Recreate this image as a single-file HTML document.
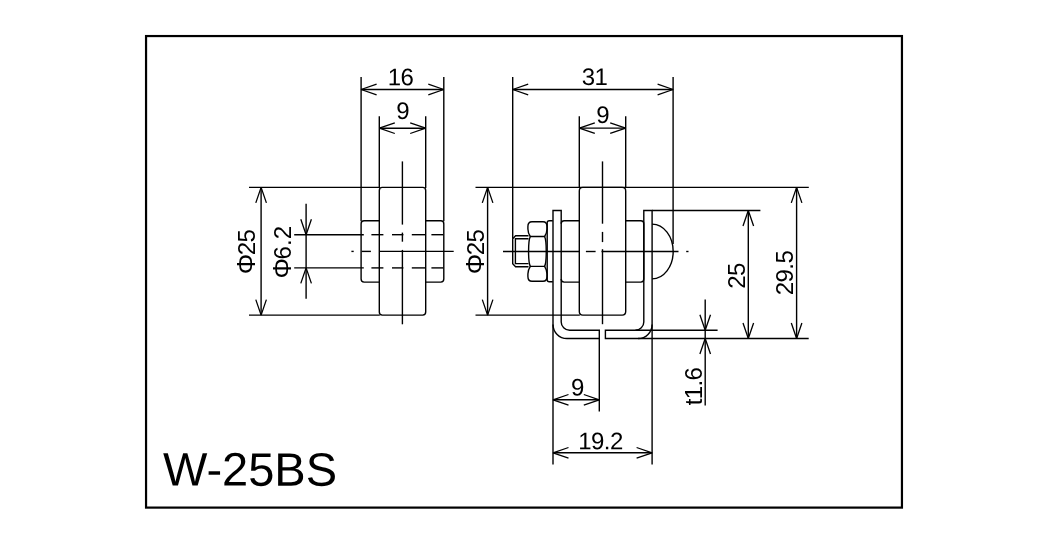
<!DOCTYPE html>
<html><head><meta charset="utf-8"><title>W-25BS</title>
<style>
html,body{margin:0;padding:0;background:#fff;}
svg{display:block;will-change:transform;}
text{font-family:"Liberation Sans",sans-serif;fill:#000;stroke:none;}
</style></head>
<body>
<svg width="1050" height="545" viewBox="0 0 1050 545">
<rect x="0" y="0" width="1050" height="545" fill="#fff"/>
<rect x="146.05" y="36.05" width="755.9" height="471.55" fill="none" stroke="#000" stroke-width="2.2"/>
<text x="162.9" y="485.6" font-size="47" transform="rotate(0.03 162.9 485.6)">W-25BS</text>
<g fill="none" stroke="#000" stroke-width="1.4" stroke-linecap="butt" stroke-linejoin="miter">
<line x1="361.1" y1="77.1" x2="361.1" y2="221.3" />
<line x1="443.8" y1="77.1" x2="443.8" y2="221.3" />
<line x1="361.1" y1="89.5" x2="443.8" y2="89.5" />
<path d="M376.60,84.20 L361.1,89.5 L376.60,94.80" stroke-linejoin="bevel" stroke-width="1.3"/>
<path d="M428.30,94.80 L443.8,89.5 L428.30,84.20" stroke-linejoin="bevel" stroke-width="1.3"/>
<text x="400.4" y="85.3" font-size="24" text-anchor="middle" letter-spacing="-0.6" transform="rotate(0.05 400.4 85.3)" >16</text>
<line x1="379.3" y1="116.2" x2="379.3" y2="187.9" />
<line x1="425.7" y1="116.2" x2="425.7" y2="187.9" />
<line x1="379.3" y1="128.2" x2="425.7" y2="128.2" />
<path d="M394.80,122.90 L379.3,128.2 L394.80,133.50" stroke-linejoin="bevel" stroke-width="1.3"/>
<path d="M410.20,133.50 L425.7,128.2 L410.20,122.90" stroke-linejoin="bevel" stroke-width="1.3"/>
<text x="402.7" y="119" font-size="24" text-anchor="middle" letter-spacing="-0.6" transform="rotate(0.05 402.7 119)" >9</text>
<path d="M379.3,190.4 Q379.3,187.4 382.3,187.4 L422.7,187.4 Q425.7,187.4 425.7,190.4 L425.7,312.1 Q425.7,315.1 422.7,315.1 L382.3,315.1 Q379.3,315.1 379.3,312.1 Z" />
<path d="M379.3,220.8 L364.1,220.8 Q361.1,220.8 361.1,223.8 L361.1,279.1 Q361.1,282.1 364.1,282.1 L379.3,282.1" />
<path d="M425.7,220.8 L440.8,220.8 Q443.8,220.8 443.8,223.8 L443.8,279.1 Q443.8,282.1 440.8,282.1 L425.7,282.1" />
<line x1="402.4" y1="161.4" x2="402.4" y2="224.6" />
<line x1="402.4" y1="232.6" x2="402.4" y2="241.7" />
<line x1="402.4" y1="249.9" x2="402.4" y2="324.3" />
<line x1="351.4" y1="251.4" x2="353.7" y2="251.4" />
<line x1="361.7" y1="251.4" x2="370.9" y2="251.4" />
<line x1="379.4" y1="251.4" x2="453.7" y2="251.4" />
<line x1="294.2" y1="234.7" x2="363.8" y2="234.7" />
<line x1="371.4" y1="234.7" x2="383.4" y2="234.7" />
<line x1="392" y1="234.7" x2="403.4" y2="234.7" />
<line x1="411.8" y1="234.7" x2="425.1" y2="234.7" />
<line x1="431.4" y1="234.7" x2="443.4" y2="234.7" />
<line x1="294.2" y1="267.9" x2="363.8" y2="267.9" />
<line x1="371.4" y1="267.9" x2="383.4" y2="267.9" />
<line x1="392" y1="267.9" x2="403.4" y2="267.9" />
<line x1="411.8" y1="267.9" x2="425.1" y2="267.9" />
<line x1="431.4" y1="267.9" x2="443.4" y2="267.9" />
<line x1="249" y1="187.4" x2="379.8" y2="187.4" />
<line x1="249" y1="315.1" x2="379.8" y2="315.1" />
<line x1="261.1" y1="187.4" x2="261.1" y2="315.1" />
<path d="M266.40,202.90 L261.1,187.4 L255.80,202.90" stroke-linejoin="bevel" stroke-width="1.3"/>
<path d="M255.80,299.60 L261.1,315.1 L266.40,299.60" stroke-linejoin="bevel" stroke-width="1.3"/>
<text x="255.0" y="252.1" font-size="24" text-anchor="middle" letter-spacing="-0.6" transform="rotate(-90 255.0 252.1)" ><tspan font-size="25.6">&#934;</tspan><tspan dx="-0.8">25</tspan></text>
<line x1="306.1" y1="203.8" x2="306.1" y2="298.7" />
<path d="M300.80,219.20 L306.1,234.7 L311.40,219.20" stroke-linejoin="bevel" stroke-width="1.3"/>
<path d="M311.40,283.40 L306.1,267.9 L300.80,283.40" stroke-linejoin="bevel" stroke-width="1.3"/>
<text x="291.3" y="252.3" font-size="24" text-anchor="middle" letter-spacing="-0.6" transform="rotate(-90 291.3 252.3)" ><tspan font-size="25.6">&#934;</tspan><tspan dx="-0.6" letter-spacing="0">6.2</tspan></text>
<line x1="512.7" y1="77.1" x2="512.7" y2="238.6" />
<line x1="673.1" y1="77.1" x2="673.1" y2="244" />
<line x1="512.7" y1="89.5" x2="673.1" y2="89.5" />
<path d="M528.20,84.20 L512.7,89.5 L528.20,94.80" stroke-linejoin="bevel" stroke-width="1.3"/>
<path d="M657.60,94.80 L673.1,89.5 L657.60,84.20" stroke-linejoin="bevel" stroke-width="1.3"/>
<text x="594.4" y="84.9" font-size="24" text-anchor="middle" letter-spacing="-0.6" transform="rotate(0.05 594.4 84.9)" >31</text>
<line x1="579.3" y1="116.2" x2="579.3" y2="187.9" />
<line x1="625.7" y1="116.2" x2="625.7" y2="187.9" />
<line x1="579.3" y1="128.1" x2="625.7" y2="128.1" />
<path d="M594.80,122.80 L579.3,128.1 L594.80,133.40" stroke-linejoin="bevel" stroke-width="1.3"/>
<path d="M610.20,133.40 L625.7,128.1 L610.20,122.80" stroke-linejoin="bevel" stroke-width="1.3"/>
<text x="602.5" y="123" font-size="24" text-anchor="middle" letter-spacing="-0.6" transform="rotate(0.05 602.5 123)" >9</text>
<line x1="475.5" y1="187.4" x2="808.8" y2="187.4" />
<line x1="475.5" y1="315.1" x2="579.8" y2="315.1" />
<line x1="487.6" y1="187.4" x2="487.6" y2="315.1" />
<path d="M492.90,202.90 L487.6,187.4 L482.30,202.90" stroke-linejoin="bevel" stroke-width="1.3"/>
<path d="M482.30,299.60 L487.6,315.1 L492.90,299.60" stroke-linejoin="bevel" stroke-width="1.3"/>
<text x="483.7" y="252.0" font-size="24" text-anchor="middle" letter-spacing="-0.6" transform="rotate(-90 483.7 252.0)" ><tspan font-size="25.6">&#934;</tspan><tspan dx="-0.8">25</tspan></text>
<path d="M579.3,190.9 Q579.3,187.4 582.8,187.4 L622.2,187.4 Q625.7,187.4 625.7,190.9 L625.7,311.6 Q625.7,315.1 622.2,315.1 L582.8,315.1 Q579.3,315.1 579.3,311.6 Z" />
<line x1="602.5" y1="161.4" x2="602.5" y2="223.7" />
<line x1="602.5" y1="231.9" x2="602.5" y2="242.1" />
<line x1="602.5" y1="249.2" x2="602.5" y2="324.2" />
<line x1="503" y1="251.5" x2="579" y2="251.5" />
<line x1="585.9" y1="251.5" x2="595.6" y2="251.5" />
<line x1="601.5" y1="251.5" x2="678.5" y2="251.5" />
<line x1="686.2" y1="251.5" x2="688.5" y2="251.5" />
<path d="M528.5,235.8 L515.6,235.8 L512.7,238.7 L512.7,263.8 L515.6,266.7 L528.5,266.7" />
<path d="M528.5,238.8 L515.4,238.8 L515.4,263.6 L528.5,263.6" />
<path d="M530.3,236.5 C528.7,234.0 527.9,231.5 527.9,229.0 L527.9,226.5 C527.9,223.2 529.4,221.7 532,221.7 L543.0,221.7 C545.6,221.7 547.0,223.2 547.0,226.5 L547.0,229.0 C547.0,231.5 546.2,234.0 544.6,236.5 Z" />
<path d="M530.3,266.4 C528.7,268.9 527.9,271.4 527.9,273.9 L527.9,276.4 C527.9,279.7 529.4,281.2 532,281.2 L543.0,281.2 C545.6,281.2 547.0,279.7 547.0,276.4 L547.0,273.9 C547.0,271.4 546.2,268.9 544.6,266.4 Z" />
<path d="M530.3,236.5 C528,241 528,262 530.3,266.4" />
<path d="M544.6,236.5 C546.8,241 546.8,262 544.6,266.4" />
<path d="M552.8,220.7 L549.2,220.7 Q547.2,220.7 547.2,222.7 L547.2,279.7 Q547.2,281.7 549.2,281.7 L552.8,281.7" />
<path d="M553.0,324.5 L553.0,210.5 L561.2,210.5 L561.2,321.90000000000003 A8.4,8.4 0 0 0 569.6,330.3 L599.3,330.3 L599.3,338.5 L567.0,338.5 A14.0,14.0 0 0 1 553.0,324.5" />
<path d="M579.3,220.8 L564.2,220.8 Q561.2,220.8 561.2,223.8 M561.2,279.1 Q561.2,282.1 564.2,282.1 L579.3,282.1" />
<path d="M625.7,220.8 L640.8,220.8 Q643.8,220.8 643.8,223.8 L643.8,279.1 Q643.8,282.1 640.8,282.1 L625.7,282.1" />
<path d="M652.1,324.5 L652.1,210.5 L643.8,210.5 L643.8,321.90000000000003 A8.4,8.4 0 0 1 635.4,330.3 L605.4,330.3 L605.4,338.5 L638.1,338.5 A14.0,14.0 0 0 0 652.1,324.5" />
<line x1="652.1" y1="210.5" x2="760.4" y2="210.5" />
<path d="M652.1,224.1 A21.1,27.4 0 0 1 652.1,278.9" />
<line x1="553.0" y1="324.5" x2="553.0" y2="464.6" />
<line x1="599.3" y1="338.5" x2="599.3" y2="411.6" />
<line x1="652.1" y1="324.5" x2="652.1" y2="464.6" />
<line x1="553.0" y1="399.8" x2="599.3" y2="399.8" />
<path d="M568.50,394.50 L553.0,399.8 L568.50,405.10" stroke-linejoin="bevel" stroke-width="1.3"/>
<path d="M583.80,405.10 L599.3,399.8 L583.80,394.50" stroke-linejoin="bevel" stroke-width="1.3"/>
<text x="577.4" y="395.4" font-size="24" text-anchor="middle" letter-spacing="-0.6" transform="rotate(0.05 577.4 395.4)" >9</text>
<line x1="553.0" y1="452.8" x2="652.1" y2="452.8" />
<path d="M568.50,447.50 L553.0,452.8 L568.50,458.10" stroke-linejoin="bevel" stroke-width="1.3"/>
<path d="M636.60,458.10 L652.1,452.8 L636.60,447.50" stroke-linejoin="bevel" stroke-width="1.3"/>
<text x="600.5" y="449.3" font-size="24" text-anchor="middle" letter-spacing="-0.6" transform="rotate(0.05 600.5 449.3)" >19.2</text>
<line x1="635.4" y1="330.3" x2="717.6" y2="330.3" />
<line x1="638.1" y1="338.5" x2="808.7" y2="338.5" />
<line x1="705.2" y1="299.4" x2="705.2" y2="405.5" />
<path d="M699.90,314.80 L705.2,330.3 L710.50,314.80" stroke-linejoin="bevel" stroke-width="1.3"/>
<path d="M710.50,354.00 L705.2,338.5 L699.90,354.00" stroke-linejoin="bevel" stroke-width="1.3"/>
<text x="701.9" y="405.3" font-size="24" text-anchor="start" letter-spacing="-0.6" transform="rotate(-90 701.9 405.3)" >t1.6</text>
<line x1="748.3" y1="210.5" x2="748.3" y2="338.5" />
<path d="M753.60,226.00 L748.3,210.5 L743.00,226.00" stroke-linejoin="bevel" stroke-width="1.3"/>
<path d="M743.00,323.00 L748.3,338.5 L753.60,323.00" stroke-linejoin="bevel" stroke-width="1.3"/>
<text x="744.6" y="276" font-size="24" text-anchor="middle" letter-spacing="-0.6" transform="rotate(-90 744.6 276)" >25</text>
<line x1="796.6" y1="187.4" x2="796.6" y2="338.5" />
<path d="M801.90,202.90 L796.6,187.4 L791.30,202.90" stroke-linejoin="bevel" stroke-width="1.3"/>
<path d="M791.30,323.00 L796.6,338.5 L801.90,323.00" stroke-linejoin="bevel" stroke-width="1.3"/>
<text x="793.2" y="273" font-size="24" text-anchor="middle" letter-spacing="-0.6" transform="rotate(-90 793.2 273)" >29.5</text>
</g>
</svg>
</body></html>
